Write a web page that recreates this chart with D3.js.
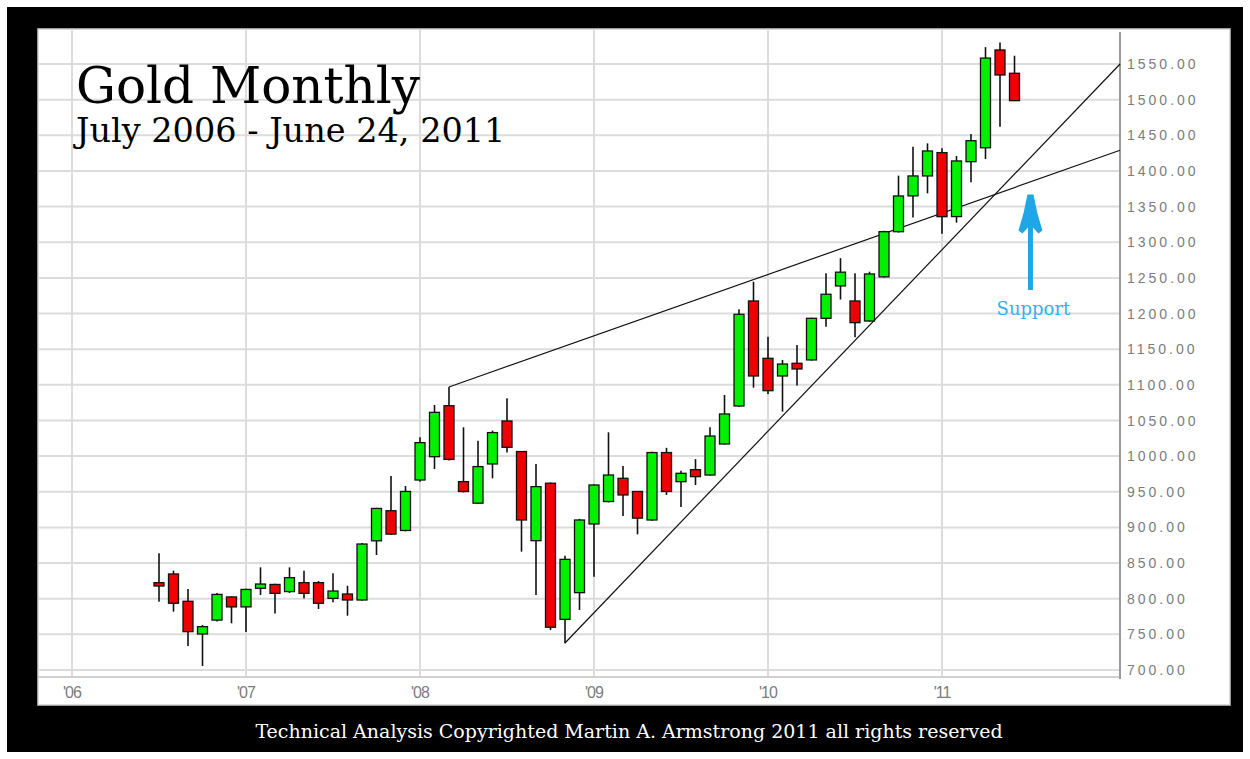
<!DOCTYPE html>
<html>
<head>
<meta charset="utf-8">
<script src="https://cdn.jsdelivr.net/npm/d3@7"></script>
<style>
  body { margin: 0; background: #fff; }
</style>
</head>
<body>
<div id="chart"></div>
<script>
// monthly candles, July 2006 - June 2011
var months = ["2006-07","2006-08","2006-09","2006-10","2006-11","2006-12",
  "2007-01","2007-02","2007-03","2007-04","2007-05","2007-06","2007-07","2007-08","2007-09","2007-10","2007-11","2007-12",
  "2008-01","2008-02","2008-03","2008-04","2008-05","2008-06","2008-07","2008-08","2008-09","2008-10","2008-11","2008-12",
  "2009-01","2009-02","2009-03","2009-04","2009-05","2009-06","2009-07","2009-08","2009-09","2009-10","2009-11","2009-12",
  "2010-01","2010-02","2010-03","2010-04","2010-05","2010-06","2010-07","2010-08","2010-09","2010-10","2010-11","2010-12",
  "2011-01","2011-02","2011-03","2011-04","2011-05","2011-06"];

var opens = [822.5,834.7,796.4,750.5,770,802.5,
  788.5,814.6,820,810,822.5,822.5,800.5,806.6,798.2,881.2,923.4,895.7,
  966.5,999.2,1070.7,964.2,934,989,1049.3,1006.4,881.4,962,771,808.5,
  904.8,936.3,968.9,950.4,910.4,1005,964.2,981,973.5,1017,1070.3,1217.6,
  1137.2,1112.4,1130.2,1134.9,1193.3,1238.7,1217.6,1189.5,1251.4,1314.8,1365,1393,
  1425.7,1336,1413,1432.5,1569.7,1537];
var highs = [863.7,839.3,813.6,763.1,808,803,
  814,844,821,844,839.3,824.8,835.6,818.2,878,927.5,972.1,958.1,
  1026.4,1071.7,1097,1040.4,1021.7,1035.8,1081,1007,989,963,860.3,912,
  960.5,1033.4,986.1,951,1006,1011.6,979.5,995.8,1040.4,1085.8,1205.9,1244.6,
  1167.6,1134.9,1155.9,1194,1256.5,1277.6,1256.5,1258.7,1316,1393.4,1434,1438.7,
  1431.7,1421,1451.8,1573.7,1580,1561.6];
var lows = [795.9,781.8,733.7,705.6,768,765.5,
  753.3,805.2,779.4,808,800.4,785.6,795,776.2,797,861.3,889.5,894.5,
  964.2,982,994,949,933,968.8,1005,866,805.2,756.1,737.4,784.2,
  830.9,935,916,890.3,909.5,945.5,928.5,959.5,972.5,1016,1069,1096,
  1087,1062.4,1099,1134,1181.5,1219.6,1166.7,1188.5,1250.5,1313.5,1334.7,1368.6,
  1311.8,1327.5,1384,1416.7,1462,1498];
var closes = [817.8,793.6,753.8,760.8,806,788.5,
  813,820.6,807.5,829.5,807.5,793.6,810.8,798.2,876.7,926.6,890.6,950.4,
  1018.9,1061.4,995.4,950.4,985.3,1033,1012.4,910.4,957.2,760,855.2,910.4,
  959.5,973.5,945.5,913,1005,950.4,975.9,971.2,1028.2,1059.1,1198.9,1112.4,
  1091.8,1129.2,1122.2,1193.3,1227,1258,1187.2,1255.5,1314.8,1364.9,1393,1428,
  1335.9,1414,1442.4,1558.3,1534.6,1498.6];

// x axis: months counted from Jan 2006
var yearTicks = [0, 12, 24, 36, 48, 60];
var yearLabels = ["'06", "'07", "'08", "'09", "'10", "'11"];
var priceTicks = [700,750,800,850,900,950,1000,1050,1100,1150,1200,1250,1300,1350,1400,1450,1500,1550];

// hand drawn trend lines [month index, price]
var resistance = [[26, 1097], [72.28, 1429]];
var support = [[34, 737.9], [72.28, 1550]];
// arrow annotation [month index, price from, price to, label price]
var supportNote = {i: 66.1, from: 1233, to: 1367, label: 1198, text: "Support"};

var W = 1250, H = 759;
var plot = {left: 38, top: 29, right: 1120, bottom: 677, outerRight: 1230, outerBottom: 705};

var svg = d3.select("#chart")
  .append("svg")
    .attr("width", W)
    .attr("height", H);

// black frame
svg.append("rect")
  .attr("x", 7).attr("y", 7)
  .attr("width", 1236).attr("height", 745)
  .style("fill", "#000");

// white chart panel
svg.append("rect")
  .attr("x", plot.left).attr("y", plot.top)
  .attr("width", plot.outerRight - plot.left)
  .attr("height", plot.outerBottom - plot.top)
  .style("fill", "#fff")
  .style("stroke", "#cfcfcf")
  .style("stroke-width", 1.5);

var x = d3.scaleLinear()
  .domain([0, 72])
  .range([72, 1116]);

var y = d3.scaleLinear()
  .domain([700, 1550])
  .range([670, 64]);

function monthIndex(m) {
  var p = m.split("-");
  return (+p[0] - 2006) * 12 + (+p[1] - 1);
}

var candles = months.map(function(m, k) {
  return {i: monthIndex(m), o: opens[k], h: highs[k], l: lows[k], c: closes[k]};
});

// horizontal grid
svg.append("g")
  .selectAll("line")
  .data(priceTicks)
  .enter()
  .append("line")
    .attr("x1", plot.left)
    .attr("x2", plot.right)
    .attr("y1", function(d) { return y(d); })
    .attr("y2", function(d) { return y(d); })
    .style("stroke", "#dcdcdc")
    .style("stroke-width", 2);

// vertical year grid
svg.append("g")
  .selectAll("line")
  .data(yearTicks)
  .enter()
  .append("line")
    .attr("x1", function(d) { return x(d); })
    .attr("x2", function(d) { return x(d); })
    .attr("y1", plot.top)
    .attr("y2", plot.bottom)
    .style("stroke", "#dcdcdc")
    .style("stroke-width", 2);

// bottom border of plot
svg.append("line")
  .attr("x1", plot.left).attr("x2", plot.right)
  .attr("y1", plot.bottom).attr("y2", plot.bottom)
  .style("stroke", "#d0d0d0")
  .style("stroke-width", 2);

// right price axis
svg.append("line")
  .attr("x1", plot.right).attr("x2", plot.right)
  .attr("y1", 32).attr("y2", 679)
  .style("stroke", "#9a9a9a")
  .style("stroke-width", 2);

svg.append("g")
  .selectAll("text")
  .data(priceTicks)
  .enter()
  .append("text")
    .attr("x", plot.right + 7)
    .attr("y", function(d) { return y(d); })
    .attr("dy", "0.36em")
    .style("font-family", "'Liberation Sans', Arial, sans-serif")
    .style("font-size", "14px")
    .style("letter-spacing", "3px")
    .style("fill", "#7c7c7c")
    .text(function(d) { return d3.format(".2f")(d); });

// year labels
svg.append("g")
  .selectAll("text")
  .data(yearTicks)
  .enter()
  .append("text")
    .attr("x", function(d) { return x(d); })
    .attr("y", 692)
    .attr("dy", "0.36em")
    .attr("text-anchor", "middle")
    .style("font-family", "'Liberation Sans', Arial, sans-serif")
    .style("font-size", "16px")
    .style("letter-spacing", "-1px")
    .style("fill", "#7c7c7c")
    .text(function(d, k) { return yearLabels[k]; });

// trend lines
var line = d3.line()
  .x(function(d) { return x(d[0]); })
  .y(function(d) { return y(d[1]); });

[resistance, support].forEach(function(t) {
  svg.append("path")
    .attr("d", line(t))
    .style("fill", "none")
    .style("stroke", "#111")
    .style("stroke-width", 1.2);
});

// candles
var g = svg.append("g");

g.selectAll("line.wick")
  .data(candles)
  .enter()
  .append("line")
    .attr("class", "wick")
    .attr("x1", function(d) { return x(d.i); })
    .attr("x2", function(d) { return x(d.i); })
    .attr("y1", function(d) { return y(d.h); })
    .attr("y2", function(d) { return y(d.l); })
    .style("stroke", "#111")
    .style("stroke-width", 1.6);

g.selectAll("rect.body")
  .data(candles)
  .enter()
  .append("rect")
    .attr("class", "body")
    .attr("x", function(d) { return x(d.i) - 5; })
    .attr("y", function(d) { return y(Math.max(d.o, d.c)); })
    .attr("width", 10)
    .attr("height", function(d) { return Math.max(2, Math.abs(y(d.o) - y(d.c))); })
    .style("fill", function(d) { return d.c >= d.o ? "#00f000" : "#f00000"; })
    .style("stroke", "#111")
    .style("stroke-width", 1.3);

// titles
svg.append("text")
  .attr("x", 76)
  .attr("y", 103)
  .style("font-family", "'DejaVu Serif', serif")
  .style("font-size", "50px")
  .style("fill", "#000")
  .text("Gold Monthly");

svg.append("text")
  .attr("x", 76)
  .attr("y", 142)
  .style("font-family", "'DejaVu Serif', serif")
  .style("font-size", "33.5px")
  .style("fill", "#000")
  .text("July 2006 - June 24, 2011");

// support arrow
var ax = x(supportNote.i),
    yTip = y(supportNote.to),
    yBase = y(supportNote.from);

svg.append("line")
  .attr("x1", ax).attr("x2", ax)
  .attr("y1", yTip + 30).attr("y2", yBase)
  .style("stroke", "#1fa6e6")
  .style("stroke-width", 5);

svg.append("path")
  .attr("d", "M" + (ax - 3) + "," + yTip +
    " L" + (ax + 3) + "," + yTip +
    " L" + (ax + 7) + "," + (yTip + 19) +
    " L" + (ax + 12) + "," + (yTip + 36) +
    " L" + (ax + 8) + "," + (yTip + 39) +
    " L" + (ax + 2.5) + "," + (yTip + 33) +
    " L" + (ax - 2.5) + "," + (yTip + 33) +
    " L" + (ax - 8) + "," + (yTip + 39) +
    " L" + (ax - 12) + "," + (yTip + 36) +
    " L" + (ax - 7) + "," + (yTip + 19) + " Z")
  .style("fill", "#1fa6e6");

svg.append("text")
  .attr("x", ax + 3)
  .attr("y", y(supportNote.label))
  .attr("text-anchor", "middle")
  .style("font-family", "'DejaVu Serif', serif")
  .style("font-size", "18px")
  .style("fill", "#33b0ea")
  .text(supportNote.text);

// footer
svg.append("text")
  .attr("x", 629)
  .attr("y", 738)
  .attr("text-anchor", "middle")
  .style("font-family", "'DejaVu Serif', serif")
  .style("font-size", "19px")
  .style("fill", "#fff")
  .text("Technical Analysis Copyrighted Martin A. Armstrong 2011 all rights reserved");
</script>
</body>
</html>
